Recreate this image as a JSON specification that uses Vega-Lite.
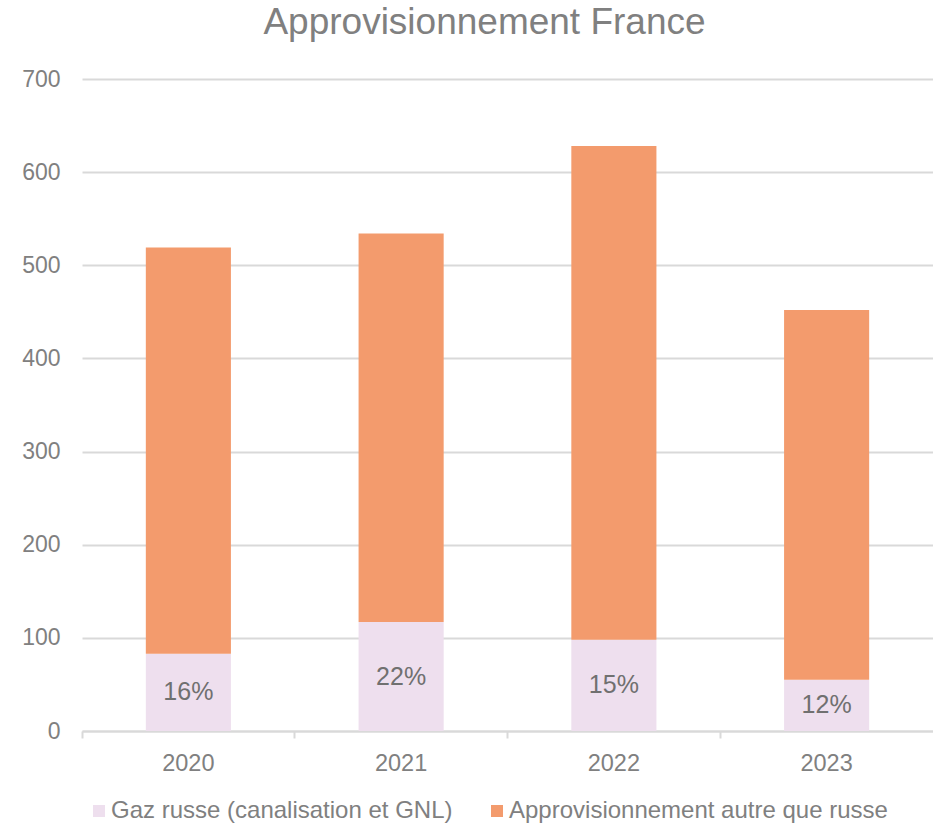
{
  "$schema": "https://vega.github.io/schema/vega-lite/v6.json",
  "autosize": {"type": "none"},
  "padding": {"left": 82, "top": 79, "right": 0, "bottom": 95},
  "width": 851,
  "height": 652,
  "background": "white",
  "config": {
    "font": "Liberation Sans",
    "view": {"stroke": null}
  },
  "title": {
    "text": "Approvisionnement France",
    "fontSize": 37,
    "fontWeight": "normal",
    "color": "#808080",
    "anchor": "middle",
    "dx": -23,
    "offset": 26
  },
  "data": {
    "values": [
      {"annee": "2020", "type": "Gaz russe (canalisation et GNL)", "ordre": 1, "valeur": 83, "label": "16%"},
      {"annee": "2020", "type": "Approvisionnement autre que russe", "ordre": 2, "valeur": 436, "label": ""},
      {"annee": "2021", "type": "Gaz russe (canalisation et GNL)", "ordre": 1, "valeur": 117, "label": "22%"},
      {"annee": "2021", "type": "Approvisionnement autre que russe", "ordre": 2, "valeur": 417, "label": ""},
      {"annee": "2022", "type": "Gaz russe (canalisation et GNL)", "ordre": 1, "valeur": 98, "label": "15%"},
      {"annee": "2022", "type": "Approvisionnement autre que russe", "ordre": 2, "valeur": 530, "label": ""},
      {"annee": "2023", "type": "Gaz russe (canalisation et GNL)", "ordre": 1, "valeur": 55, "label": "12%"},
      {"annee": "2023", "type": "Approvisionnement autre que russe", "ordre": 2, "valeur": 397, "label": ""}
    ]
  },
  "transform": [
    {"stack": "valeur", "groupby": ["annee"], "sort": [{"field": "ordre"}], "as": ["v0", "v1"]},
    {"calculate": "(datum.v0 + datum.v1) / 2", "as": "milieu"}
  ],
  "encoding": {
    "x": {
      "field": "annee",
      "type": "nominal",
      "scale": {"paddingInner": 0, "paddingOuter": 0},
      "axis": {
        "title": null,
        "labelAngle": 0,
        "labelFontSize": 23.5,
        "labelColor": "#808080",
        "labelPadding": 13,
        "domainColor": "#d9d9d9",
        "domainWidth": 2,
        "tickColor": "#d9d9d9",
        "tickWidth": 2,
        "tickSize": 7,
        "bandPosition": 0,
        "grid": false
      }
    }
  },
  "layer": [
    {
      "mark": {"type": "bar", "width": {"band": 0.4}},
      "encoding": {
        "y": {
          "field": "v1",
          "type": "quantitative",
          "scale": {"domain": [0, 700], "nice": false},
          "axis": {
            "title": null,
            "values": [0, 100, 200, 300, 400, 500, 600, 700],
            "labelFontSize": 23,
            "labelColor": "#808080",
            "labelPadding": 22,
            "domain": false,
            "ticks": false,
            "gridColor": "#d9d9d9",
            "gridWidth": 2
          }
        },
        "y2": {"field": "v0"},
        "color": {
          "field": "type",
          "type": "nominal",
          "scale": {
            "domain": ["Gaz russe (canalisation et GNL)", "Approvisionnement autre que russe"],
            "range": ["#eedfee", "#f39b6d"]
          },
          "legend": {
            "title": null,
            "orient": "none",
            "direction": "horizontal",
            "legendX": 5,
            "legendY": 720,
            "symbolType": "square",
            "symbolSize": 144,
            "symbolStrokeWidth": 0,
            "labelFontSize": 24,
            "labelColor": "#808080",
            "labelOffset": 0,
            "columnPadding": 32,
            "labelLimit": 600
          }
        }
      }
    },
    {
      "mark": {"type": "text", "fontSize": 25, "color": "#707070", "baseline": "middle"},
      "encoding": {
        "y": {"field": "milieu", "type": "quantitative"},
        "text": {"field": "label", "type": "nominal"}
      }
    }
  ]
}
